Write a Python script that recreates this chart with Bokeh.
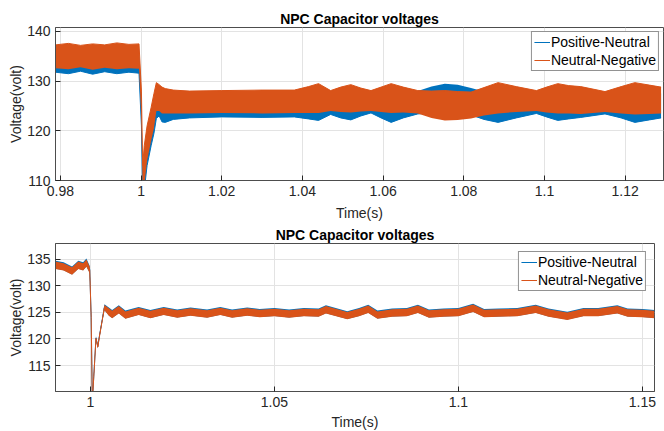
from bokeh.plotting import figure
from bokeh.layouts import column
from bokeh.models import ColumnDataSource, FixedTicker, Legend, LegendItem, Range1d
from bokeh.embed import file_html
from bokeh.resources import INLINE

# ---------------- data: top panel (envelopes of the fast ripple) ----------------
top_t = [0.9788, 0.9820, 0.9850, 0.9880, 0.9910, 0.9940, 0.9970, 0.9995, 1.0001, 1.0004,
         1.0008, 1.0015, 1.0025, 1.0032, 1.0038, 1.0045, 1.0052, 1.0060, 1.0080,
         1.0120, 1.0200, 1.0300, 1.0380, 1.0415, 1.0440, 1.0470, 1.0495, 1.0520, 1.0545,
         1.0570, 1.0595, 1.0620, 1.0650, 1.0686, 1.0720, 1.0753, 1.0785, 1.0818, 1.0850,
         1.0885, 1.0930, 1.0980, 1.1005, 1.1033, 1.1060, 1.1090, 1.1150, 1.1190, 1.1224,
         1.1260, 1.1289]
top_pn_lo = [131.8, 131.5, 132.0, 131.4, 131.9, 131.5, 131.8, 131.6, 121.0, 107.0,
             108.0, 113.0, 117.0, 119.5, 122.5, 123.0, 121.8, 121.7, 122.3,
             122.6, 122.8, 122.7, 122.8, 122.4, 122.1, 123.3, 122.6, 122.2, 123.0,
             123.6, 122.6, 121.7, 122.6, 123.4, 123.6, 123.4, 123.5, 123.2, 122.3,
             121.7, 122.6, 123.5, 122.8, 122.1, 122.4, 122.7, 123.4, 122.6, 121.7,
             122.2, 122.6]
top_pn_hi = [136.5, 136.8, 136.3, 136.7, 136.4, 136.8, 136.5, 136.6, 127.0, 112.0,
             116.0, 120.0, 123.5, 126.0, 128.5, 128.0, 127.5, 127.5, 127.5,
             127.3, 127.4, 127.3, 127.5, 127.6, 127.8, 127.5, 127.6, 127.8, 127.5,
             127.3, 127.5, 127.6, 127.7, 128.0, 128.9, 129.5, 129.3, 128.6, 127.9,
             127.7, 127.5, 127.3, 127.5, 127.7, 127.6, 127.5, 127.2, 127.5, 127.8,
             127.6, 127.5]
top_nn_lo = [132.6, 132.4, 132.8, 132.3, 132.7, 132.4, 132.6, 132.5, 122.0, 108.0,
             109.0, 114.0, 118.0, 120.5, 124.0, 124.0, 123.5, 123.5, 123.5,
             123.5, 123.6, 123.5, 123.6, 123.6, 123.6, 124.0, 123.8, 123.7, 123.9,
             124.0, 123.8, 123.6, 123.7, 123.5, 122.6, 122.1, 122.2, 122.5, 123.1,
             123.5, 123.8, 124.0, 123.7, 123.5, 123.5, 123.4, 123.8, 123.5, 123.3,
             123.4, 123.5]
top_nn_hi = [137.3, 137.6, 137.2, 137.5, 137.3, 137.7, 137.4, 137.5, 128.0, 113.0,
             117.0, 121.0, 124.7, 127.5, 129.7, 129.3, 128.8, 128.5, 128.2,
             128.0, 128.1, 128.2, 128.2, 128.9, 129.5, 128.1, 128.8, 129.3, 128.6,
             128.1, 128.8, 129.5, 128.8, 128.1, 128.0, 128.1, 127.9, 127.8, 128.7,
             129.7, 128.9, 128.1, 128.8, 129.5, 129.1, 128.9, 127.9, 128.9, 129.7,
             129.2, 128.8]
top_xticks = [0.98, 1.0, 1.02, 1.04, 1.06, 1.08, 1.1, 1.12]
top_xlabels = ["0.98", "1", "1.02", "1.04", "1.06", "1.08", "1.1", "1.12"]
top_yticks = [110, 120, 130, 140]

# ---------------- data: bottom panel (centre and ripple half-width) ----------------
bot_t = [0.9905, 0.9927, 0.9950, 0.9967, 0.9980, 0.9989, 0.9998, 1.0002, 1.0005, 1.0009,
         1.0015, 1.0020, 1.0024, 1.0032, 1.0038, 1.0050, 1.0059, 1.0077, 1.0095, 1.0131,
         1.0163, 1.0199, 1.0236, 1.0272, 1.0317, 1.0353, 1.0385, 1.0426, 1.0460, 1.0500,
         1.0540, 1.0580, 1.0620, 1.0640, 1.0698, 1.0730, 1.0755, 1.0780, 1.0820, 1.0860,
         1.0890, 1.0920, 1.0960, 1.1000, 1.1040, 1.1070, 1.1110, 1.1160, 1.1210, 1.1245,
         1.1296, 1.1340, 1.1380, 1.1432, 1.1460, 1.1500, 1.1533]
bot_nn = [133.9, 133.6, 132.8, 133.9, 133.6, 134.3, 133.0, 124.0, 108.0, 112.8,
          120.1, 118.5, 120.3, 123.5, 125.9, 125.1, 124.6, 125.5, 124.5, 125.2,
          124.6, 125.2, 124.7, 125.1, 124.7, 125.2, 124.7, 125.1, 124.8, 125.0,
          124.7, 125.0, 124.9, 125.5, 124.4, 125.0, 125.6, 124.5, 124.9, 125.0,
          125.6, 124.7, 124.9, 125.0, 125.8, 124.8, 124.9, 125.0, 125.6, 124.9,
          124.3, 125.0, 125.0, 125.5, 124.9, 124.8, 124.6]
bot_pn = [134.0, 133.7, 132.9, 134.0, 133.7, 134.4, 133.1, 124.1, 108.1, 112.9,
          120.2, 118.6, 120.4, 123.6, 126.0, 125.2, 124.7, 125.6, 124.6, 125.3,
          124.7, 125.3, 124.8, 125.2, 124.8, 125.3, 124.8, 125.2, 124.9, 125.1,
          124.8, 125.1, 125.0, 125.6, 124.5, 125.1, 125.7, 124.6, 125.0, 125.1,
          125.7, 124.8, 125.0, 125.1, 125.9, 124.9, 125.0, 125.1, 125.7, 125.0,
          124.4, 125.1, 125.1, 125.6, 125.0, 124.9, 124.7]
bot_ripple = [0.7, 0.7, 0.7, 0.7, 0.7, 0.7, 0.6, 0.2, 0.2, 0.2,
              0.25, 0.3, 0.3, 0.3, 0.5, 0.7, 0.7, 0.7, 0.7, 0.7,
              0.7, 0.7, 0.7, 0.7, 0.7, 0.7, 0.7, 0.7, 0.7, 0.7,
              0.7, 0.7, 0.7, 0.7, 0.7, 0.7, 0.7, 0.7, 0.7, 0.7,
              0.7, 0.7, 0.7, 0.7, 0.7, 0.7, 0.7, 0.7, 0.7, 0.7,
              0.7, 0.7, 0.7, 0.7, 0.7, 0.7, 0.7]
bot_xticks = [1.0, 1.05, 1.1, 1.15]
bot_xlabels = ["1", "1.05", "1.1", "1.15"]
bot_yticks = [115, 120, 125, 130, 135]

series_names = ["Positive-Neutral", "Neutral-Negative"]
BLUE = "#0072BD"
ORANGE = "#D95319"
FONT = "Liberation Sans"


def style(p, xticks, xlabels, yticks, xlab_standoff):
    p.title.text_font = FONT
    p.title.text_font_size = "14px"
    p.title.text_font_style = "bold"
    p.title.align = "center"
    p.title.text_color = "#000000"
    p.title.standoff = 2
    p.title.offset = 0
    p.xaxis.ticker = FixedTicker(ticks=xticks)
    p.xaxis.major_label_overrides = {t: l for t, l in zip(xticks, xlabels)}
    p.yaxis.ticker = FixedTicker(ticks=yticks)
    for ax in (p.xaxis[0], p.yaxis[0]):
        ax.major_tick_in = 5
        ax.major_tick_out = 0
        ax.minor_tick_line_color = None
        ax.axis_line_color = "#4d4d4d"
        ax.major_tick_line_color = "#262626"
        ax.major_label_text_font = FONT
        ax.major_label_text_font_size = "14px"
        ax.major_label_text_color = "#262626"
        ax.axis_label_text_font = FONT
        ax.axis_label_text_font_size = "14px"
        ax.axis_label_text_font_style = "normal"
        ax.axis_label_text_color = "#262626"
    p.xaxis.major_label_standoff = 5
    p.xaxis.axis_label_standoff = xlab_standoff
    p.yaxis.major_label_standoff = 5
    p.yaxis.axis_label_standoff = 0
    p.grid.grid_line_color = "#e3e3e3"
    p.outline_line_color = "#4d4d4d"
    p.outline_line_width = 1
    p.background_fill_color = "#ffffff"
    p.border_fill_color = "#ffffff"


def add_legend(p, r1, r2, margin):
    lg = Legend(items=[LegendItem(label=series_names[0], renderers=[r1]),
                       LegendItem(label=series_names[1], renderers=[r2])],
                location="top_right")
    lg.label_text_font = FONT
    lg.label_text_font_size = "14px"
    lg.label_text_color = "#000000"
    lg.glyph_width = 16
    lg.glyph_height = 16
    lg.label_height = 16
    lg.label_standoff = 1
    lg.spacing = 2
    lg.padding = 2
    lg.margin = margin
    lg.border_line_color = "#262626"
    lg.border_line_width = 1
    lg.background_fill_alpha = 1
    p.add_layout(lg)


# ---------------- top figure ----------------
p1 = figure(frame_width=608, frame_height=153, output_backend="svg", toolbar_location=None,
            title="NPC Capacitor voltages",
            x_range=Range1d(0.9788, 1.1295), y_range=Range1d(110, 140.8),
            x_axis_label="Time(s)", y_axis_label="Voltage(volt)",
            min_border_left=55, min_border_right=1, min_border_top=27, min_border_bottom=41)
style(p1, top_xticks, top_xlabels, top_yticks, 6)
src1 = ColumnDataSource(dict(t=top_t, pl=top_pn_lo, ph=top_pn_hi, nl=top_nn_lo, nh=top_nn_hi))
p1.varea(x="t", y1="pl", y2="ph", source=src1, fill_color=BLUE)
a1 = p1.line(x="t", y="pl", source=src1, line_color=BLUE, line_width=1)
p1.varea(x="t", y1="nl", y2="nh", source=src1, fill_color=ORANGE)
b1 = p1.line(x="t", y="nh", source=src1, line_color=ORANGE, line_width=1)
add_legend(p1, a1, b1, 4)

# ---------------- bottom figure ----------------
p2 = figure(frame_width=599, frame_height=148, output_backend="svg", toolbar_location=None,
            title="NPC Capacitor voltages",
            x_range=Range1d(0.9905, 1.1533), y_range=Range1d(110.1, 138),
            x_axis_label="Time(s)", y_axis_label="Voltage(volt)",
            min_border_left=52, min_border_right=13, min_border_top=19, min_border_bottom=0)
style(p2, bot_xticks, bot_xlabels, bot_yticks, 4)
src2 = ColumnDataSource(dict(
    t=bot_t,
    pl=[c - r - 0.05 for c, r in zip(bot_pn, bot_ripple)],
    ph=[c + r + 0.05 for c, r in zip(bot_pn, bot_ripple)],
    nl=[c - r for c, r in zip(bot_nn, bot_ripple)],
    nh=[c + r for c, r in zip(bot_nn, bot_ripple)]))
p2.varea(x="t", y1="pl", y2="ph", source=src2, fill_color=BLUE)
a2 = p2.line(x="t", y="pn", source=dict(t=bot_t, pn=bot_pn), line_color=BLUE, line_width=1)
p2.varea(x="t", y1="nl", y2="nh", source=src2, fill_color=ORANGE)
b2 = p2.line(x="t", y="nn", source=dict(t=bot_t, nn=bot_nn), line_color=ORANGE, line_width=1)
add_legend(p2, a2, b2, 8)

layout = column(p1, p2, spacing=0)
open("out.html", "w").write(file_html(layout, INLINE))
